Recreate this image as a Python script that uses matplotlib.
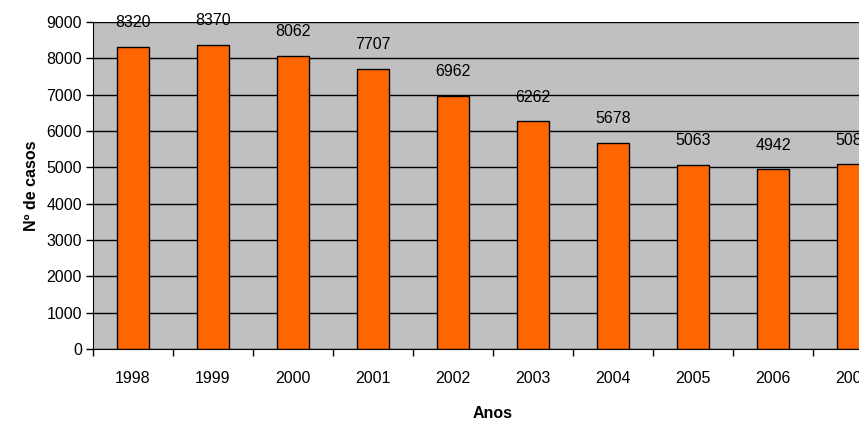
import matplotlib.pyplot as plt
import numpy as np

plt.rcParams['font.family'] = ['Liberation Sans', 'DejaVu Sans']

years = ['1998', '1999', '2000', '2001', '2002', '2003', '2004', '2005', '2006', '2007']
cases = [8320, 8370, 8062, 7707, 6962, 6262, 5678, 5063, 4942, 5084]

W, H = 859, 422
fig = plt.figure(figsize=(W / 100, H / 100), dpi=100)
# plot area runs past the right edge, as in the original (cropped) image
ax = fig.add_axes([93 / W, (H - 349) / H, 800 / W, 327 / H])
ax.set_facecolor('#C0C0C0')

x = np.arange(len(years))
ax.bar(x, cases, width=0.4, color='#FF6600', edgecolor='black', linewidth=1, zorder=3)

for xi, v in zip(x, cases):
    ax.annotate(str(v), (xi, v), xytext=(0, 12), textcoords='offset points',
                ha='center', va='bottom', fontsize=11.5, clip_on=False)

ax.set_xlim(-0.5, len(years) - 0.5)
ax.set_ylim(0, 9000)
ax.set_yticks(range(0, 9001, 1000))
ax.yaxis.grid(True, color='black', linewidth=1, zorder=0)
ax.set_axisbelow(True)

# ticks between categories, labels centered under bars
ax.set_xticks(np.append(-0.5, x + 0.5))
ax.set_xticklabels([])
ax.set_xticks(x, minor=True)
ax.set_xticklabels(years, minor=True)
ax.tick_params(axis='x', which='minor', length=0, pad=16, labelsize=11.5)
ax.tick_params(axis='x', which='major', length=5, width=1)
ax.tick_params(axis='y', length=5, width=1, labelsize=11.5, pad=3)

ax.spines['top'].set_visible(False)
ax.spines['right'].set_visible(False)

ax.set_ylabel('Nº de casos', fontsize=11.5, fontweight='bold', labelpad=5)
ax.set_xlabel('Anos', fontsize=11.5, fontweight='bold', labelpad=14)

fig.savefig('out.png', dpi=100)
